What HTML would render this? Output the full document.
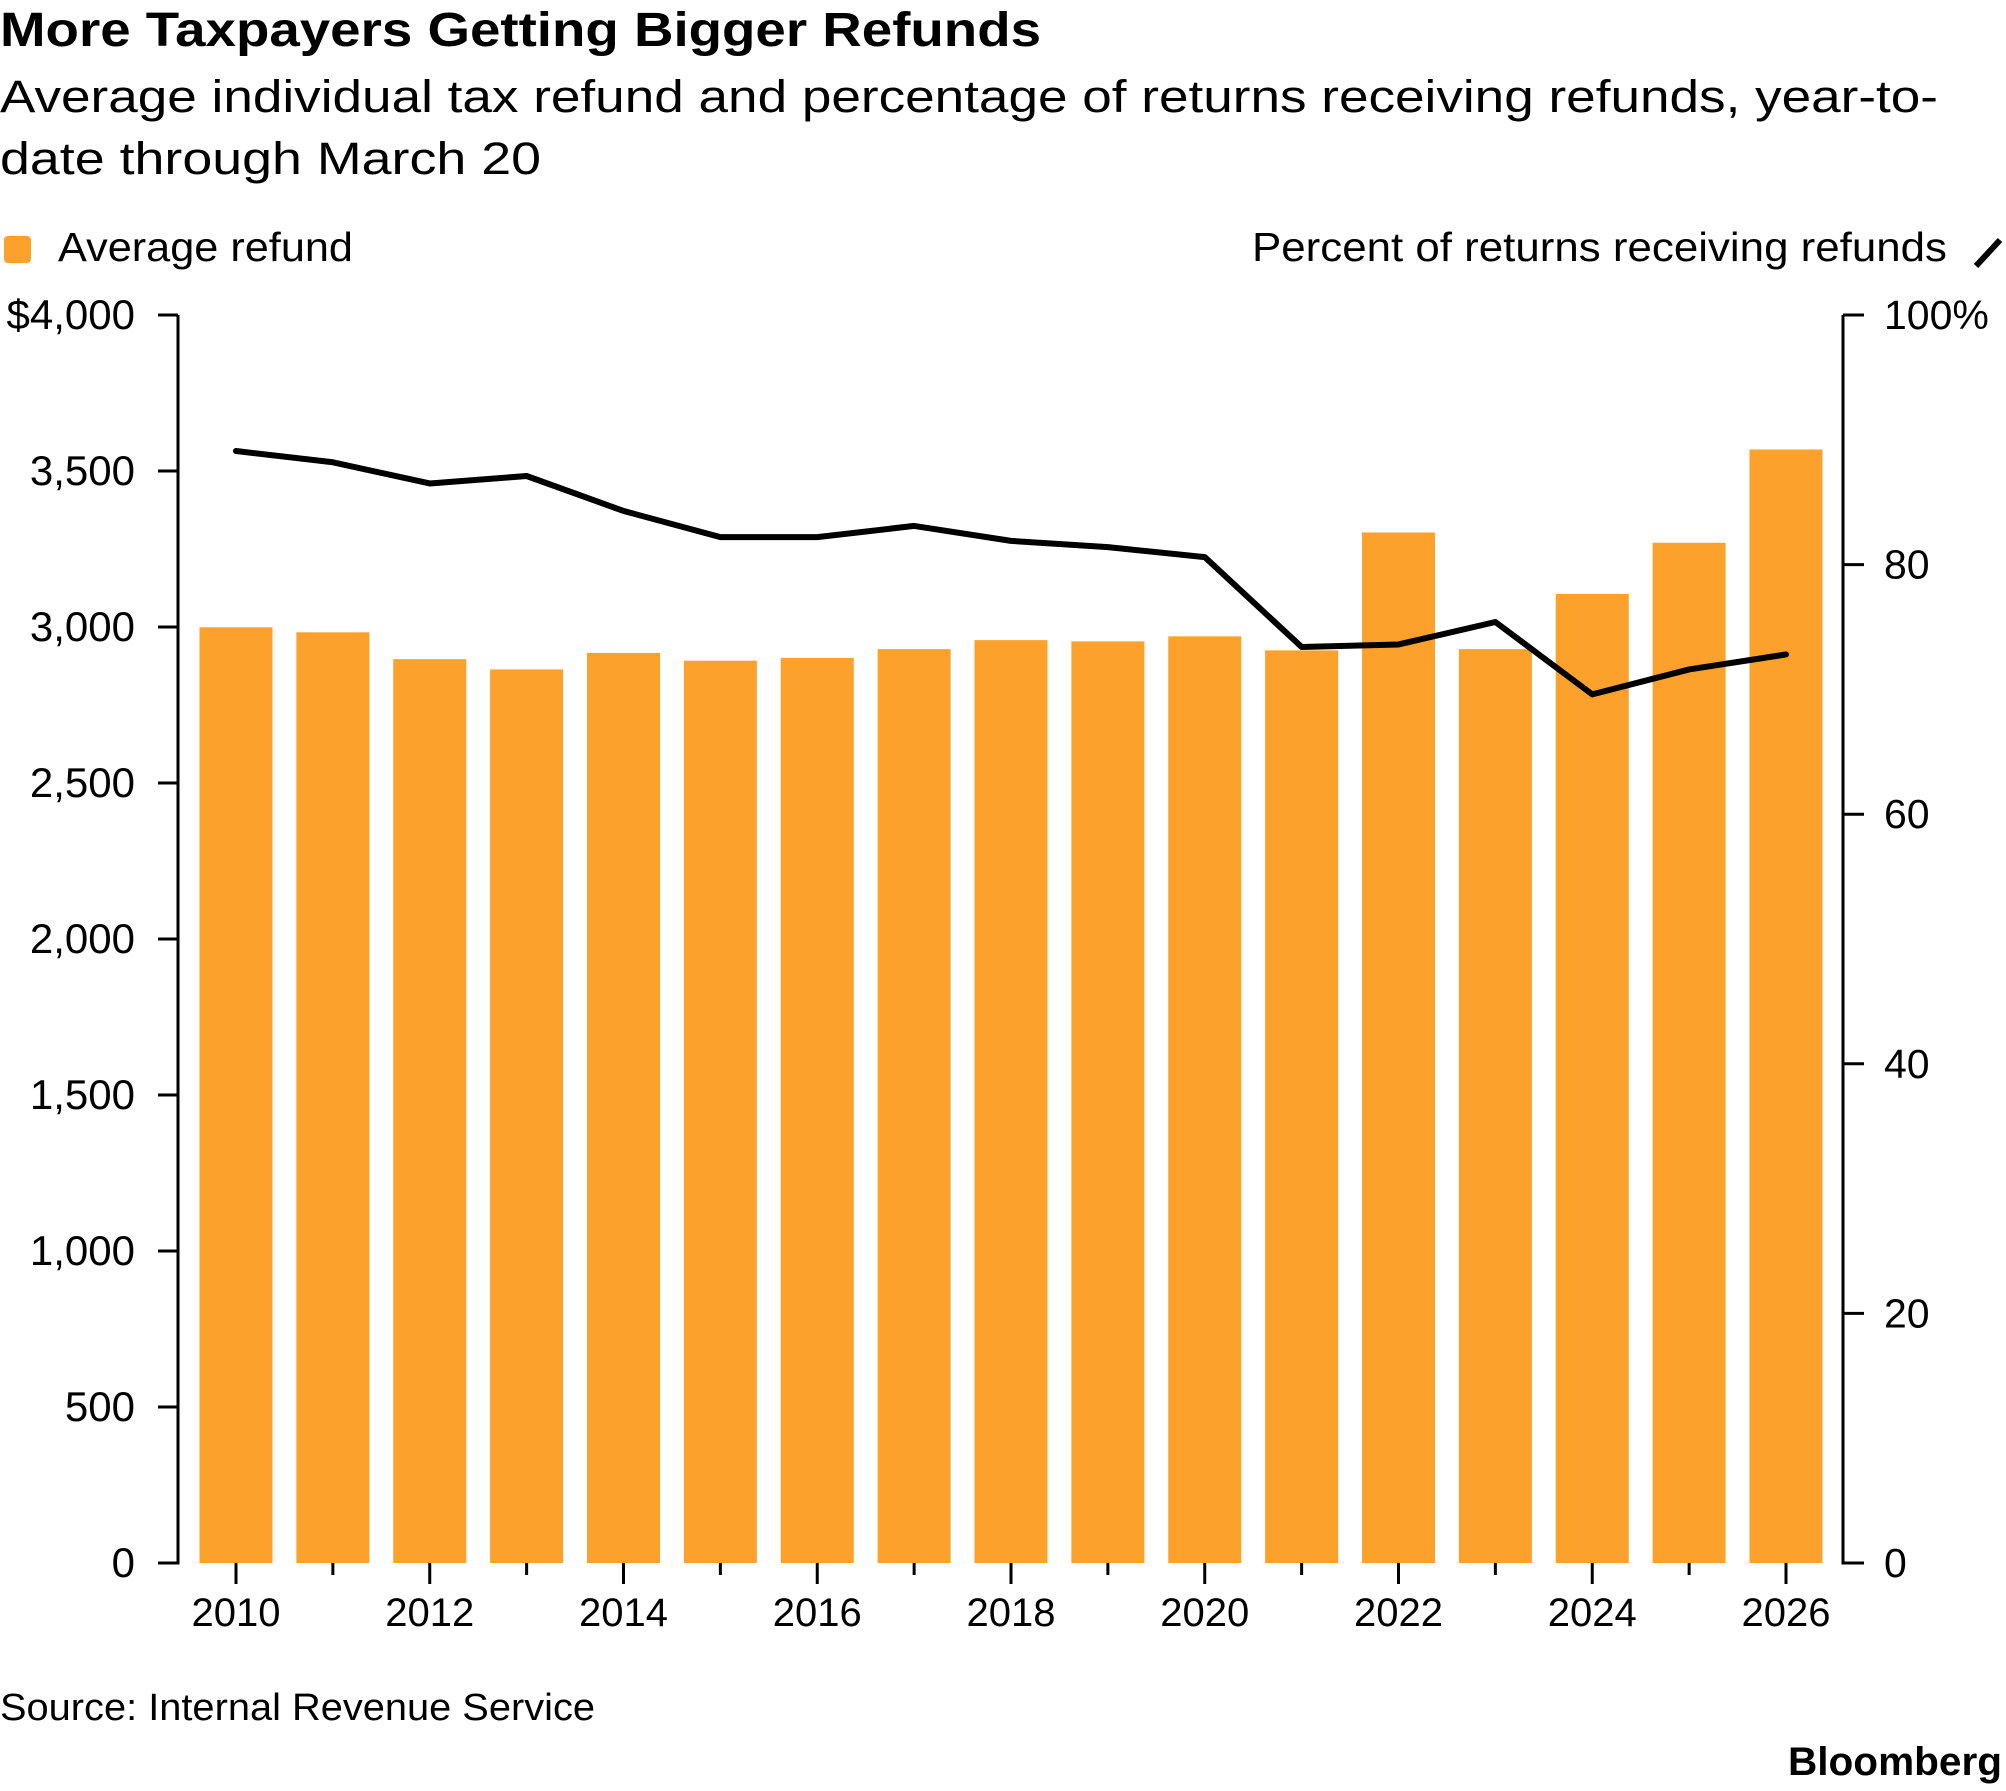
<!DOCTYPE html>
<html><head><meta charset="utf-8"><style>
body{margin:0;background:#fff;}
svg{display:block;font-family:"Liberation Sans",sans-serif;}
</style></head><body>
<svg id="chart" width="2006" height="1791" viewBox="0 0 2006 1791" xmlns="http://www.w3.org/2000/svg">
<text x="0" y="46" font-size="48" font-weight="bold" fill="#000" textLength="1041" lengthAdjust="spacingAndGlyphs">More Taxpayers Getting Bigger Refunds</text>
<text font-size="45" fill="#000"><tspan x="0" y="112" textLength="1938" lengthAdjust="spacingAndGlyphs">Average individual tax refund and percentage of returns receiving refunds, year-to-</tspan><tspan x="0" y="174" textLength="541" lengthAdjust="spacingAndGlyphs">date through March 20</tspan></text>
<rect x="4" y="236" width="27" height="27" rx="4" fill="#fca12c"/>
<text x="58" y="261" font-size="41" fill="#000" textLength="295" lengthAdjust="spacingAndGlyphs">Average refund</text>
<text x="1252" y="261" font-size="41" fill="#000" textLength="695" lengthAdjust="spacingAndGlyphs">Percent of returns receiving refunds</text>
<line x1="1976" y1="266" x2="2000" y2="240" stroke="#000" stroke-width="6"/>
<g id="bars"></g><g id="axes"></g><g id="line"></g>
<text x="0" y="1720" font-size="38" fill="#000" textLength="595" lengthAdjust="spacingAndGlyphs">Source: Internal Revenue Service</text>
<text x="1788" y="1775" font-size="40" font-weight="bold" fill="#000" textLength="214" lengthAdjust="spacingAndGlyphs">Bloomberg</text>
</svg>
<script>
const years=[2010,2011,2012,2013,2014,2015,2016,2017,2018,2019,2020,2021,2022,2023,2024,2025,2026];
const refunds=[2999,2983,2897,2864,2917,2892,2901,2929,2958,2954,2970,2925,3303,2929,3106,3270,3569];
const pctRefunds=[89.1,88.2,86.5,87.1,84.3,82.2,82.2,83.1,81.9,81.4,80.6,73.4,73.6,75.4,69.6,71.6,72.8];
const leftTicks=[0,500,1000,1500,2000,2500,3000,3500,4000];
const leftTickLabels=["0","500","1,000","1,500","2,000","2,500","3,000","3,500","$4,000"];
const rightTicks=[0,20,40,60,80,100];
const rightTickLabels=["0","20","40","60","80","100%"];
const NS="http://www.w3.org/2000/svg";
const y0=1563,yTop=315,xL=178,xR=1843;
const yL=v=>y0-(v/4000)*(y0-yTop);
const yR=v=>y0-(v/100)*(y0-yTop);
const x=i=>236+i*96.875;
function mk(tag,attrs,parent){const e=document.createElementNS(NS,tag);for(const k in attrs)e.setAttribute(k,attrs[k]);document.getElementById(parent).appendChild(e);return e;}
years.forEach((yr,i)=>{
  const r=mk('rect',{x:x(i)-36.5,y:yL(refunds[i]),width:73,height:y0-yL(refunds[i]),fill:'#fca12c'},'bars');
  
  
  const even=yr%2===0;
  const t=mk('line',{x1:x(i),x2:x(i),y1:y0,y2:y0+(even?21:12),stroke:'#000','stroke-width':3},'axes');
  
  
  if(even){const l=mk('text',{x:x(i),y:1626,'font-size':40,'text-anchor':'middle',fill:'#000'},'axes');l.textContent=yr;
  
  }
});
const la=mk('line',{x1:xL,x2:xL,y1:yTop,y2:y0+1.5,stroke:'#000','stroke-width':3},'axes');


const ra=mk('line',{x1:xR,x2:xR,y1:yTop,y2:y0+1.5,stroke:'#000','stroke-width':3},'axes');


leftTicks.forEach((v,i)=>{
  const t=mk('line',{x1:158,x2:xL,y1:yL(v),y2:yL(v),stroke:'#000','stroke-width':3},'axes');
  
  
  const l=mk('text',{x:135,y:yL(v)+14,'font-size':42,'text-anchor':'end',fill:'#000'},'axes');l.textContent=leftTickLabels[i];
  
  
});
rightTicks.forEach((v,i)=>{
  const t=mk('line',{x1:xR,x2:1864,y1:yR(v),y2:yR(v),stroke:'#000','stroke-width':3},'axes');
  
  
  const l=mk('text',{x:1884,y:yR(v)+14,'font-size':41,fill:'#000'},'axes');l.textContent=rightTickLabels[i];
  
  
});
const p=mk('polyline',{points:pctRefunds.map((v,i)=>x(i)+','+yR(v)).join(' '),fill:'none',stroke:'#000','stroke-width':6,'stroke-linejoin':'round','stroke-linecap':'round'},'line');


</script>
</body></html>
